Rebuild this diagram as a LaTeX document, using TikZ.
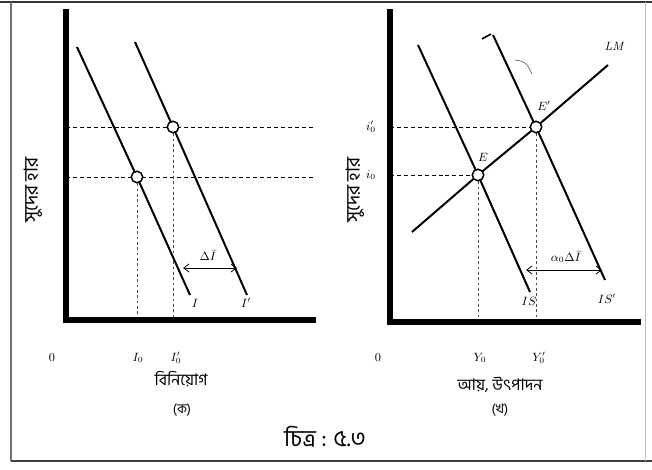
\documentclass[tikz,border=0pt]{standalone}
\usepackage{fontspec}
\newfontfamily\bn[Script=Bengali]{Hind Siliguri}
\usetikzlibrary{arrows.meta}
\begin{document}
\begin{tikzpicture}[x=0.75pt,y=-0.75pt,
  axis/.style={line width=3.8pt,line cap=rect},
  curve/.style={line width=1.5pt},
  guide/.style={dashed,dash pattern=on 3pt off 2.2pt,line width=0.7pt},
  vguide/.style={dashed,dash pattern=on 2pt off 2pt,line width=0.5pt,black!70},
  pt/.style={circle,draw,fill=white,line width=1pt,inner sep=0pt,minimum size=8.5pt},
  lab/.style={font=\small,inner sep=1pt},
  bnlab/.style={font=\bn\large,inner sep=1pt},
  shiftarrow/.style={{Straight Barb[length=4pt,width=6pt]}-{Straight Barb[length=4pt,width=6pt]},line width=0.6pt}]
\useasboundingbox (0,0) rectangle (652,470);
% frame
\draw[line width=2pt,black!80] (0,2) -- (652,2);
\draw[line width=0.8pt,black!55] (11,2) -- (11,461);
\draw[line width=1.8pt,black!75] (11,461) -- (652,461);
\draw[line width=0.5pt,black!25] (645,2) -- (645,461);

% ---------- left panel ----------
\coordinate (O1) at (66,320);
\coordinate (Y1) at (66,12);
\coordinate (X1) at (313,320);
\node[pt] (A) at (137,177) {};
\node[pt] (B) at (173,127) {};
\coordinate (Ia) at (77,47);   \coordinate (Ib) at (190,295);
\coordinate (Jb) at (135,42);  \coordinate (Jc) at (247,295);
\coordinate (H1a) at (66,127); \coordinate (H1b) at (313,127);
\coordinate (H2a) at (66,177); \coordinate (H2b) at (313,177);
\coordinate (VA) at (137,320); \coordinate (VB) at (173,320);
\draw[guide] (H1a) -- (H1b);
\draw[guide] (H2a) -- (H2b);
\draw[vguide] (A) -- (VA);
\draw[vguide] (B) -- (VB);
\draw[curve] (Ia) -- (A.center) -- (Ib);
\draw[curve] (Jb) -- (B.center) -- (Jc);
\draw[axis] (Y1) -- (O1) -- (X1);
\node[pt] at (A) {};
\node[pt] at (B) {};
\coordinate (DL) at (183,268); \coordinate (DR) at (237,268);
\draw[shiftarrow] (DL) -- (DR);
\node[lab,anchor=south] (dI) at (208,262) {$\Delta\bar{I}$};
\node[lab] (lI) at (195,303) {$I$};
\node[lab] (lJ) at (246,303) {$I'$};
\node[lab] (z1) at (52,358) {$0$};
\node[lab] (i0) at (138,358) {$I_0$};
\node[lab] (i1) at (176,358) {$I'_0$};
\node[bnlab] (xl1) at (181,379) {বিনিয়োগ};
\node[bnlab,font=\bn\normalsize] (c1) at (182,410) {(ক)};
\node[bnlab,rotate=90,font=\bn\Large] (yl1) at (33,190) {সুদের হার};

% ---------- right panel ----------
\coordinate (O2) at (390,322);
\coordinate (Y2) at (390,12);
\coordinate (X2) at (638,322);
\node[pt] (E) at (478,175) {};
\node[pt] (F) at (536,127) {};
\coordinate (ISa) at (418,45);  \coordinate (ISb) at (530,292);
\coordinate (JSa) at (493,35);  \coordinate (JSb) at (605,280);
\coordinate (LMa) at (412,232); \coordinate (LMb) at (608,65);
\coordinate (G1) at (390,127); \coordinate (G2) at (390,175);
\coordinate (VE) at (478,322); \coordinate (VF) at (536,322);
\draw[guide] (G1) -- (F);
\draw[guide] (G2) -- (E);
\draw[vguide] (E) -- (VE);
\draw[vguide] (F) -- (VF);
\draw[curve] (ISa) -- (E.center) -- (ISb);
\draw[curve] (JSa) -- (F.center) -- (JSb);
\draw[curve] (LMa) -- (E.center) -- (F.center) -- (LMb);
\draw[axis] (Y2) -- (O2) -- (X2);
\node[pt] at (E) {};
\node[pt] at (F) {};
% stray pen marks
\coordinate (s1) at (482,39); \coordinate (s2) at (491,34);
\draw[line width=1.2pt] (s1) -- (s2);
\coordinate (s3) at (515,60); \coordinate (s4) at (532,74);
\draw[line width=0.5pt,black!60] (s3) .. controls (526,62) .. (s4);
\coordinate (EL) at (526,270); \coordinate (ER) at (602,270);
\draw[shiftarrow] (EL) -- (ER);
\node[lab,anchor=south] (aI) at (566,264) {$\alpha_0\Delta\bar{I}$};
\node[lab] (lE) at (483,157) {$E$};
\node[lab] (lF) at (544,106) {$E'$};
\node[lab] (lLM) at (614,46) {$\mathbf{\mathit{LM}}$};
\node[lab] (lIS) at (529,301) {$IS$};
\node[lab] (lJS) at (607,299) {$IS'$};
\node[lab] (ri1) at (371,127) {$i'_0$};
\node[lab] (ri0) at (371,175) {$i_0$};
\node[lab] (z2) at (378,358) {$0$};
\node[lab] (y0) at (480,358) {$Y_0$};
\node[lab] (y1) at (539,358) {$Y'_0$};
\node[bnlab] (xl2) at (500,385) {আয়, উৎপাদন};
\node[bnlab,font=\bn\normalsize] (c2) at (500,410) {(খ)};
\node[bnlab,rotate=90,font=\bn\Large] (yl2) at (355,190) {সুদের হার};

% caption
\node[font=\bn\LARGE,inner sep=1pt] (cap) at (325,437) {চিত্র : ৫.৩};
\end{tikzpicture}
\end{document}
